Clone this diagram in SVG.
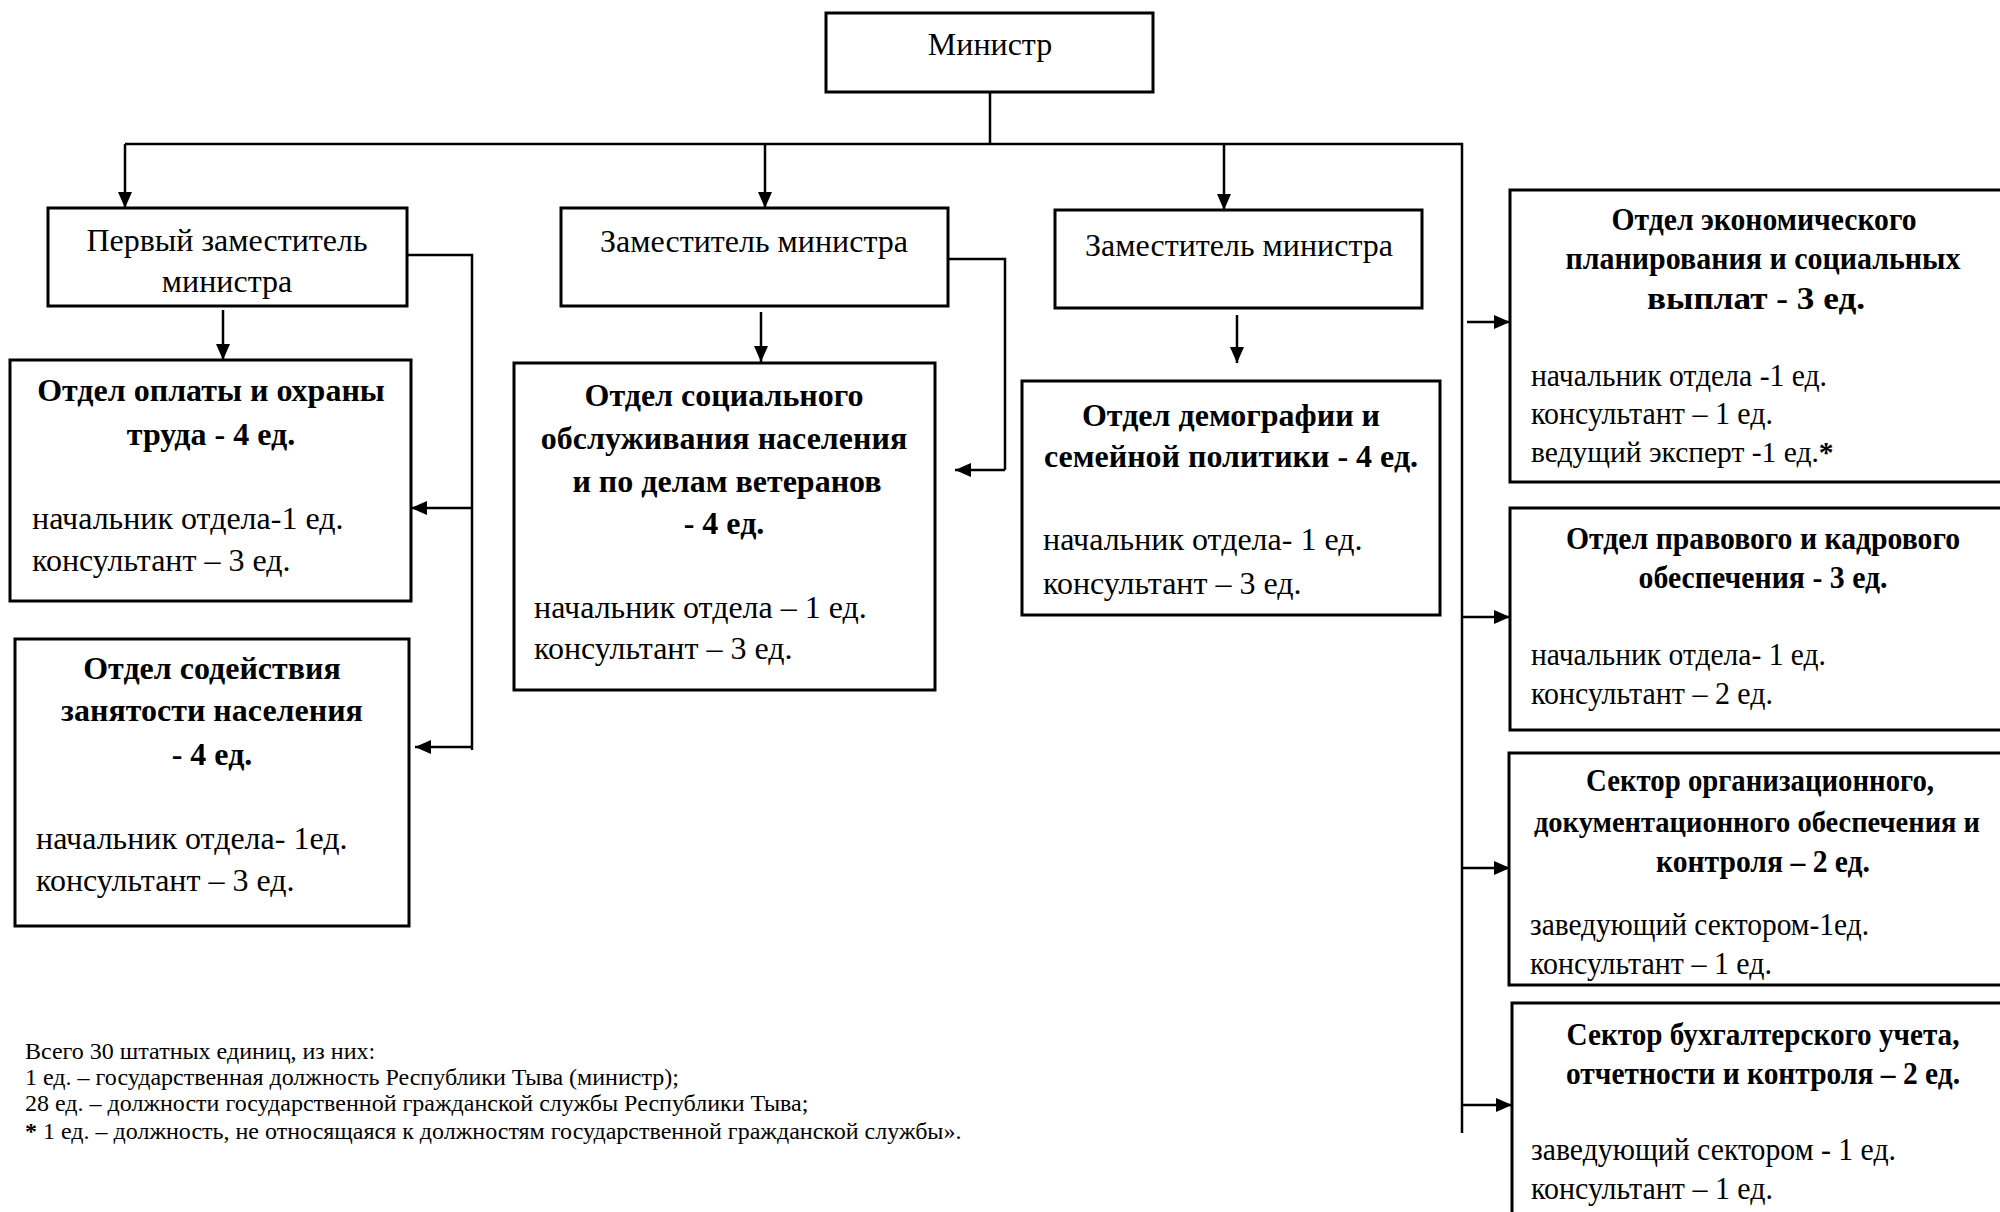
<svg xmlns="http://www.w3.org/2000/svg" width="2000" height="1212" viewBox="0 0 2000 1212">
<defs>
<marker id="ah" markerUnits="userSpaceOnUse" markerWidth="17" markerHeight="14" refX="16" refY="7" orient="auto">
<path d="M0,0 L16,7 L0,14 z" fill="#000"/>
</marker>
<style>
.box{fill:#fff;stroke:#000;stroke-width:3}
.ln{fill:none;stroke:#000;stroke-width:2.5}
.ar{fill:none;stroke:#000;stroke-width:2.5;marker-end:url(#ah)}
text{font-family:"Liberation Serif","Times New Roman",serif;fill:#000}
.r{font-size:32px}
.t{font-size:32px;font-weight:bold;text-anchor:middle}
.c{text-anchor:middle}
.f{font-size:24px}
</style>
</defs>
<rect width="2000" height="1212" fill="#fff"/>

<g id="connectors">
<path class="ln" d="M990,92 V144 M125,144 H1462 V1133"/>
<path class="ar" d="M125,144 V208"/>
<path class="ar" d="M765,144 V208"/>
<path class="ar" d="M1224,144 V210"/>
<path class="ar" d="M223,310 V360"/>
<path class="ar" d="M761,312 V362"/>
<path class="ar" d="M1237,315 V363"/>
<path class="ln" d="M407,255 H472 V750"/>
<path class="ar" d="M472,508 H411"/>
<path class="ar" d="M472,747 H415"/>
<path class="ln" d="M948,259 H1005 V470"/>
<path class="ar" d="M1005,470 H955"/>
<path class="ar" d="M1467,322 H1510"/>
<path class="ar" d="M1462,617 H1510"/>
<path class="ar" d="M1462,868 H1510"/>
<path class="ar" d="M1462,1105 H1512"/>
</g>

<g id="minister">
<rect class="box" x="826" y="13" width="327" height="79"/>
<text class="r c" x="990" y="55">Министр</text>
</g>

<g id="first-deputy">
<rect class="box" x="48" y="208" width="359" height="98"/>
<text class="r c" x="227" y="251">Первый заместитель</text>
<text class="r c" x="227" y="292">министра</text>
</g>

<g id="deputy-1">
<rect class="box" x="561" y="208" width="387" height="98"/>
<text class="r c" x="754" y="252">Заместитель министра</text>
</g>

<g id="deputy-2">
<rect class="box" x="1055" y="210" width="367" height="98"/>
<text class="r c" x="1239" y="256">Заместитель министра</text>
</g>

<g id="dept-labor">
<rect class="box" x="10" y="360" width="401" height="241"/>
<text class="t" x="211" y="401">Отдел оплаты и охраны</text>
<text class="t" x="211" y="445">труда - 4 ед.</text>
<text class="r" x="32" y="529">начальник отдела-1 ед.</text>
<text class="r" x="32" y="571">консультант – 3 ед.</text>
</g>

<g id="dept-employment">
<rect class="box" x="15" y="639" width="394" height="287"/>
<text class="t" x="212" y="679">Отдел содействия</text>
<text class="t" x="212" y="721">занятости населения</text>
<text class="t" x="212" y="765">- 4 ед.</text>
<text class="r" x="36" y="849">начальник отдела- 1ед.</text>
<text class="r" x="36" y="891">консультант – 3 ед.</text>
</g>

<g id="dept-social">
<rect class="box" x="514" y="363" width="421" height="327"/>
<text class="t" x="724" y="406">Отдел социального</text>
<text class="t" x="724" y="449">обслуживания населения</text>
<text class="t" x="727" y="492">и по делам ветеранов</text>
<text class="t" x="724" y="534">- 4 ед.</text>
<text class="r" x="534" y="618">начальник отдела – 1 ед.</text>
<text class="r" x="534" y="659">консультант – 3 ед.</text>
</g>

<g id="dept-demography">
<rect class="box" x="1022" y="381" width="418" height="234"/>
<text class="t" x="1231" y="426">Отдел демографии и</text>
<text class="t" x="1231" y="467">семейной политики - 4 ед.</text>
<text class="r" x="1043" y="550">начальник отдела- 1 ед.</text>
<text class="r" x="1043" y="594">консультант – 3 ед.</text>
</g>

<g id="dept-economic">
<rect class="box" x="1510" y="190" width="510" height="292"/>
<text class="t" x="1764" y="230" textLength="305" lengthAdjust="spacingAndGlyphs">Отдел экономического</text>
<text class="t" x="1763" y="269" textLength="395" lengthAdjust="spacingAndGlyphs">планирования и социальных</text>
<text class="t" x="1756" y="309" textLength="218" lengthAdjust="spacingAndGlyphs">выплат - 3 ед.</text>
<text class="r" x="1531" y="386" textLength="296" lengthAdjust="spacingAndGlyphs">начальник отдела -1 ед.</text>
<text class="r" x="1531" y="424" textLength="242" lengthAdjust="spacingAndGlyphs">консультант – 1 ед.</text>
<text x="1531" y="462" style="font-size:29.5px">ведущий эксперт -1 ед.<tspan font-weight="bold">*</tspan></text>
</g>

<g id="dept-legal">
<rect class="box" x="1510" y="508" width="510" height="222"/>
<text class="t" x="1763" y="549" textLength="394" lengthAdjust="spacingAndGlyphs">Отдел правового и кадрового</text>
<text class="t" x="1763" y="588" textLength="249" lengthAdjust="spacingAndGlyphs">обеспечения - 3 ед.</text>
<text class="r" x="1531" y="665" textLength="295" lengthAdjust="spacingAndGlyphs">начальник отдела- 1 ед.</text>
<text class="r" x="1531" y="704" textLength="242" lengthAdjust="spacingAndGlyphs">консультант – 2 ед.</text>
</g>

<g id="sector-org">
<rect class="box" x="1509" y="753" width="511" height="232"/>
<text class="t" x="1760" y="791" textLength="348" lengthAdjust="spacingAndGlyphs">Сектор организационного,</text>
<text class="t" x="1757" y="832" style="font-size:28.5px">документационного обеспечения и</text>
<text class="t" x="1763" y="872" textLength="214" lengthAdjust="spacingAndGlyphs">контроля – 2 ед.</text>
<text class="r" x="1530" y="935" textLength="339" lengthAdjust="spacingAndGlyphs">заведующий сектором-1ед.</text>
<text class="r" x="1530" y="974" textLength="242" lengthAdjust="spacingAndGlyphs">консультант – 1 ед.</text>
</g>

<g id="sector-accounting">
<rect class="box" x="1512" y="1003" width="508" height="230"/>
<text class="t" x="1763" y="1045" textLength="393" lengthAdjust="spacingAndGlyphs">Сектор бухгалтерского учета,</text>
<text class="t" x="1763" y="1084" textLength="394" lengthAdjust="spacingAndGlyphs">отчетности и контроля – 2 ед.</text>
<text class="r" x="1531" y="1160" textLength="365" lengthAdjust="spacingAndGlyphs">заведующий сектором - 1 ед.</text>
<text class="r" x="1531" y="1199" textLength="242" lengthAdjust="spacingAndGlyphs">консультант – 1 ед.</text>
</g>

<g id="footnote">
<text class="f" x="25" y="1059">Всего 30 штатных единиц, из них:</text>
<text class="f" x="25" y="1085">1 ед. – государственная должность Республики Тыва (министр);</text>
<text class="f" x="25" y="1111">28 ед. – должности государственной гражданской службы Республики Тыва;</text>
<text class="f" x="25" y="1139"><tspan font-weight="bold">*</tspan> 1 ед. – должность, не относящаяся к должностям государственной гражданской службы».</text>
</g>
</svg>
